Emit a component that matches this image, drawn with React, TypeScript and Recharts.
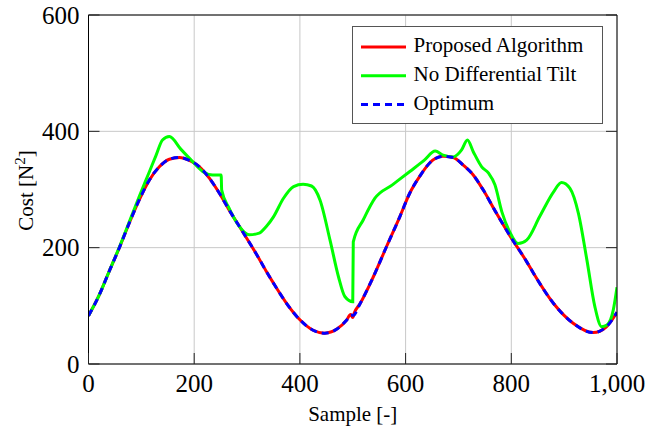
import React from 'react';
import { LineChart, Line, XAxis, YAxis, CartesianGrid, Legend } from 'recharts';

// ---- data ----
const proposedX = [0, 20, 39, 58, 77, 96, 115, 134, 153, 172, 191, 210, 229, 248, 266, 292, 317, 336, 350, 375, 400, 425, 447, 470, 488, 496, 500, 503, 514, 539, 564, 589, 608, 627, 646, 671, 690, 709, 728, 747, 772, 797, 829, 842, 880, 917, 955, 980, 1000];
const proposedY = [83, 118, 159, 199, 242, 282, 316, 339, 352, 355, 350, 339, 319, 293, 265, 227, 190, 160, 139, 104, 76, 58, 53, 60, 75, 85, 80, 88, 104, 150, 202, 253, 294, 323, 346, 357, 355, 342, 325, 299, 259, 221, 176, 156, 104, 70, 54, 64, 89];

const noTiltX = [0, 20, 39, 58, 77, 96, 115, 128, 140, 153, 175, 197, 216, 235, 251, 252, 266, 285, 304, 323, 336, 350, 369, 388, 406, 422, 438, 457, 473, 485, 500, 501, 520, 542, 575, 608, 635, 656, 671, 690, 706, 717, 728, 744, 757, 769, 782, 797, 813, 829, 854, 880, 895, 911, 927, 943, 958, 971, 981, 993, 1000];
const noTiltY = [83, 118, 159, 200, 244, 288, 330, 359, 385, 391, 369, 348, 331, 325, 325, 299, 268, 237, 222, 225, 236, 253, 285, 305, 309, 306, 282, 213, 150, 116, 107, 210, 248, 285, 308, 331, 350, 366, 359, 356, 368, 385, 365, 339, 328, 308, 262, 227, 207, 213, 254, 296, 312, 302, 259, 179, 99, 64, 67, 93, 132];

const optimumX = [0, 20, 39, 58, 77, 96, 115, 134, 153, 172, 191, 210, 229, 248, 266, 292, 317, 336, 350, 375, 400, 425, 447, 470, 488, 497, 501, 514, 539, 564, 589, 608, 627, 646, 671, 690, 709, 728, 747, 772, 797, 829, 842, 880, 917, 955, 980, 1000];
const optimumY = [83, 118, 159, 199, 242, 282, 316, 339, 352, 355, 350, 339, 319, 293, 265, 227, 190, 160, 139, 104, 76, 58, 53, 60, 75, 84, 84, 104, 150, 202, 253, 294, 323, 346, 357, 355, 342, 325, 299, 259, 221, 176, 156, 104, 70, 54, 64, 89];

const xTicks = [0, 200, 400, 600, 800, 1000];
const yTicks = [0, 200, 400, 600];

const seriesNames = ['Proposed Algorithm', 'No Differential Tilt', 'Optimum'];
const seriesColors = ['#ff0000', '#00ff00', '#0000ff'];
const seriesDash = [undefined, undefined, '7 5'];

const zip = (xs: number[], ys: number[]) => xs.map((x, i) => ({ x, y: ys[i] }));
const proposedData = zip(proposedX, proposedY);
const noTiltData = zip(noTiltX, noTiltY);
const optimumData = zip(optimumX, optimumY);

const FONT = '"Liberation Serif"';
const TXT: React.CSSProperties = { fontFamily: FONT };
const TICK_LEN = 11;
const TICK_COLOR = '#222';

const fmtX = (v: number) => (v === 1000 ? '1,000' : String(v));

const BottomTick = (props: any) => {
  const { x, y, payload } = props;
  return (
    <g>
      <line x1={x} y1={y} x2={x} y2={y - TICK_LEN} stroke={TICK_COLOR} strokeWidth={1} />
      <text x={x} y={y + 28} textAnchor="middle" fontFamily={FONT} style={TXT} fontSize={25} fill="#000">
        {fmtX(payload.value)}
      </text>
    </g>
  );
};

const TopTick = (props: any) => {
  const { x, y } = props;
  return <line x1={x} y1={y} x2={x} y2={y + TICK_LEN} stroke={TICK_COLOR} strokeWidth={1} />;
};

const LeftTick = (props: any) => {
  const { x, y, payload } = props;
  return (
    <g>
      <line x1={x} y1={y} x2={x + TICK_LEN} y2={y} stroke={TICK_COLOR} strokeWidth={1} />
      <text x={x - 9} y={y + 8.5} textAnchor="end" fontFamily={FONT} style={TXT} fontSize={25} fill="#000">
        {payload.value}
      </text>
    </g>
  );
};

const RightTick = (props: any) => {
  const { x, y } = props;
  return <line x1={x} y1={y} x2={x - TICK_LEN} y2={y} stroke={TICK_COLOR} strokeWidth={1} />;
};

const XLabel = (props: any) => {
  const vb = props.viewBox || { x: 88.5, y: 364, width: 528.5, height: 30 };
  return (
    <text x={vb.x + vb.width / 2} y={vb.y + 57} textAnchor="middle" fontFamily={FONT} style={TXT} fontSize={21} fill="#000">
      Sample [-]
    </text>
  );
};

const YLabel = (props: any) => {
  const vb = props.viewBox || { x: 28.5, y: 15, width: 60, height: 349 };
  const cx = vb.x + 4;
  const cy = vb.y + vb.height / 2 + 1;
  return (
    <text x={cx} y={cy} transform={`rotate(-90, ${cx}, ${cy})`} textAnchor="middle" fontFamily={FONT} style={TXT} fontSize={21} fill="#000">
      <tspan>Cost [N</tspan>
      <tspan dy={-8} fontSize={15}>2</tspan>
      <tspan dy={8}>]</tspan>
    </text>
  );
};

const renderLegend = (props: any) => {
  const payload = [...(props.payload || [])].sort(
    (a: any, b: any) => seriesNames.indexOf(a.value) - seriesNames.indexOf(b.value)
  );
  return (
    <svg width={251} height={98} style={{ display: 'block' }}>
      <rect x={0.5} y={0.5} width={250} height={97} fill="#fff" stroke="#555" strokeWidth={1} />
      {payload.map((e: any, i: number) => {
        const cy = 21 + i * 28.8;
        const idx = seriesNames.indexOf(e.value);
        const dash = idx >= 0 ? seriesDash[idx] : undefined;
        return (
          <g key={i}>
            <line x1={9} y1={cy} x2={54} y2={cy} stroke={e.color} strokeWidth={3} strokeDasharray={dash} />
            <text x={61.5} y={cy + 5} fontFamily={FONT} style={TXT} fontSize={21} fill="#000">
              {e.value}
            </text>
          </g>
        );
      })}
    </svg>
  );
};

export default function App() {
  return (
    <div style={{ position: 'absolute', left: 0, top: 0, width: 663, height: 433, background: '#fff', fontFamily: FONT }}>
      <LineChart width={663} height={433} margin={{ top: 5, right: 36, bottom: 39, left: 28.5 }}>
        <CartesianGrid stroke="#c8c8c8" strokeWidth={1} />
        <XAxis
          dataKey="x"
          type="number"
          domain={[0, 1000]}
          ticks={xTicks}
          interval={0}
          allowDataOverflow
          height={30}
          tickSize={0}
          tickMargin={0}
          tickLine={false}
          axisLine={{ stroke: '#000', strokeWidth: 1 }}
          tick={<BottomTick />}
          label={<XLabel />}
        />
        <XAxis
          xAxisId="top"
          orientation="top"
          type="number"
          domain={[0, 1000]}
          ticks={xTicks}
          interval={0}
          allowDataOverflow
          height={10}
          tickSize={0}
          tickMargin={0}
          tickLine={false}
          axisLine={{ stroke: '#000', strokeWidth: 1 }}
          tick={<TopTick />}
        />
        <YAxis
          type="number"
          domain={[0, 600]}
          ticks={yTicks}
          interval={0}
          allowDataOverflow
          width={60}
          tickSize={0}
          tickMargin={0}
          tickLine={false}
          axisLine={{ stroke: '#000', strokeWidth: 1 }}
          tick={<LeftTick />}
          label={<YLabel />}
        />
        <YAxis
          yAxisId="right"
          orientation="right"
          type="number"
          domain={[0, 600]}
          ticks={yTicks}
          interval={0}
          allowDataOverflow
          width={10}
          tickSize={0}
          tickMargin={0}
          tickLine={false}
          axisLine={{ stroke: '#000', strokeWidth: 1 }}
          tick={<RightTick />}
        />
        <Legend
          layout="horizontal"
          verticalAlign="middle"
          align="center"
          content={renderLegend}
          wrapperStyle={{ position: 'absolute', left: 351.5, top: 25.5, width: 251, height: 98 }}
        />
        <Line
          data={proposedData}
          dataKey="y"
          name={seriesNames[0]}
          type="monotone"
          stroke={seriesColors[0]}
          strokeWidth={3}
          dot={false}
          activeDot={false}
          isAnimationActive={false}
        />
        <Line
          data={noTiltData}
          dataKey="y"
          name={seriesNames[1]}
          type="monotone"
          stroke={seriesColors[1]}
          strokeWidth={3}
          dot={false}
          activeDot={false}
          isAnimationActive={false}
        />
        <Line
          data={optimumData}
          dataKey="y"
          name={seriesNames[2]}
          type="monotone"
          stroke={seriesColors[2]}
          strokeWidth={3}
          strokeDasharray={seriesDash[2]}
          dot={false}
          activeDot={false}
          isAnimationActive={false}
        />
      </LineChart>
    </div>
  );
}
